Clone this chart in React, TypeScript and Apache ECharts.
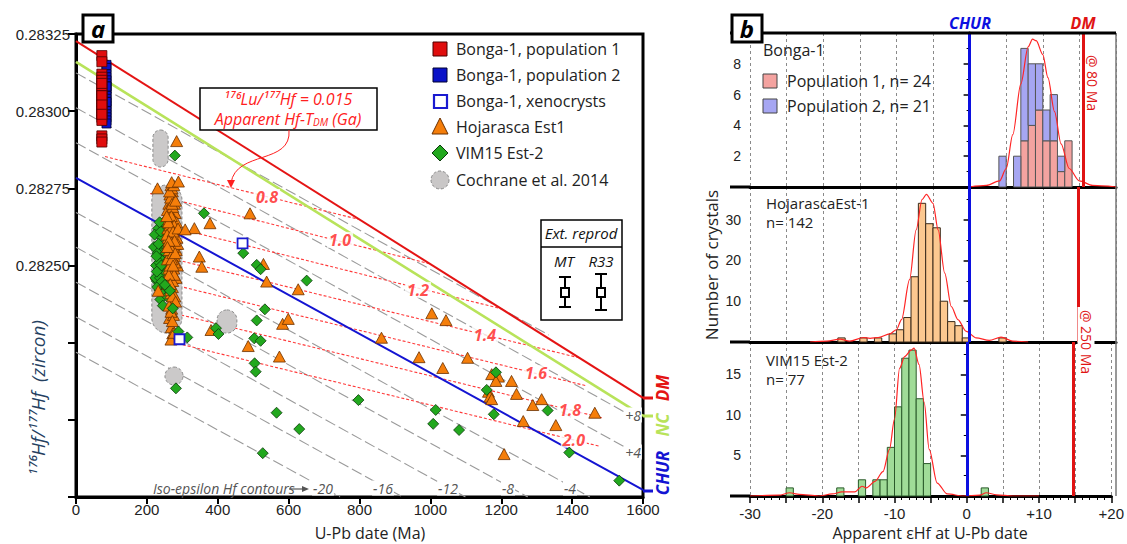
import React, { useEffect, useRef } from "react";
import * as echarts from "echarts";

// ---------- Panel a: U-Pb date (Ma) vs 176Hf/177Hf (zircon) ----------
const bongaPop1: number[][] = [
  [73, 0.28318], [73, 0.28316], [73, 0.28312], [73, 0.28311], [73, 0.2831], [73, 0.28308],
  [73, 0.28307], [73, 0.28306], [73, 0.28305], [73, 0.28304], [73, 0.28303], [73, 0.28302],
  [73, 0.28301], [73, 0.283], [73, 0.28299], [73, 0.28298], [73, 0.28297], [73, 0.28309],
  [73, 0.28305], [73, 0.28302], [73, 0.28292], [73, 0.28291], [73, 0.2829], [73, 0.28299],
];
const bongaPop2: number[][] = [
  [86, 0.28315], [86, 0.28314], [86, 0.28312], [86, 0.28311], [86, 0.2831], [86, 0.28309],
  [86, 0.28308], [86, 0.28307], [86, 0.28306], [86, 0.28305], [86, 0.28304], [86, 0.28303],
  [86, 0.28302], [86, 0.28301], [86, 0.283], [86, 0.28299], [86, 0.28298], [86, 0.28297],
  [86, 0.28296], [86, 0.28308], [86, 0.28303],
];
const bongaXeno: number[][] = [[470, 0.282572], [292, 0.282261]];

const hojarascaCluster: number[][] = [
  [268, 0.28276], [272, 0.28274], [265, 0.28273], [275, 0.28272], [270, 0.28271], [262, 0.2827],
  [278, 0.2827], [268, 0.28269], [274, 0.28268], [266, 0.28267], [280, 0.28267], [270, 0.28266],
  [262, 0.28265], [276, 0.28265], [268, 0.28264], [272, 0.28263], [264, 0.28262], [282, 0.28262],
  [270, 0.28261], [266, 0.2826], [276, 0.2826], [260, 0.28259], [272, 0.28258], [268, 0.28257],
  [280, 0.28257], [264, 0.28256], [274, 0.28255], [270, 0.28254], [262, 0.28253], [278, 0.28253],
  [266, 0.28252], [272, 0.28251], [268, 0.2825], [276, 0.28249], [264, 0.28248], [270, 0.28247],
  [274, 0.28246], [266, 0.28245], [260, 0.28244], [272, 0.28243], [268, 0.28241], [276, 0.28239],
  [270, 0.28236], [264, 0.28233], [258, 0.28268], [284, 0.28264], [259, 0.28262], [285, 0.28259],
  [261, 0.28257], [283, 0.28255], [258, 0.28252], [286, 0.2825], [262, 0.28249], [282, 0.28246],
  [271, 0.28275], [267, 0.28272], [273, 0.28269], [269, 0.28266], [265, 0.28263], [277, 0.28263],
  [271, 0.28259], [267, 0.28258], [275, 0.28256], [263, 0.28255], [279, 0.28251], [269, 0.28248],
  [273, 0.28245], [267, 0.28242], [279, 0.2824], [271, 0.28238], [263, 0.28237], [275, 0.28234],
  [269, 0.2823], [273, 0.28228], [271, 0.2827], [269, 0.28262], [273, 0.28254], [265, 0.2825],
  [277, 0.28247], [261, 0.28264], [281, 0.28271], [257, 0.2826], [287, 0.28257], [270, 0.28252],
  [274, 0.28261], [266, 0.28256], [278, 0.28258], [262, 0.28247], [272, 0.2824], [268, 0.28235],
  [256, 0.28266], [288, 0.28262], [264, 0.28274], [276, 0.28276], [270, 0.28277], [262, 0.28258],
  [280, 0.28254], [266, 0.28244], [274, 0.2825], [268, 0.28226], [272, 0.28232], [258, 0.28256],
];
const hojarascaSpread: number[][] = [
  [284, 0.282903], [230, 0.28275], [289, 0.282772], [491, 0.282669], [378, 0.282637], [334, 0.282621],
  [308, 0.282617], [348, 0.282529], [355, 0.282496], [529, 0.282505], [232, 0.282418], [281, 0.282383],
  [277, 0.282282], [381, 0.282291], [486, 0.282239], [538, 0.282448], [627, 0.282423], [583, 0.282311],
  [599, 0.282327], [574, 0.282205], [1004, 0.282345], [1044, 0.282323], [862, 0.282266], [968, 0.282203],
  [1105, 0.282201], [1035, 0.282168], [1173, 0.282148], [1192, 0.28214], [1185, 0.282126], [1229, 0.282126],
  [1164, 0.282091], [1168, 0.282075], [1173, 0.282067], [1243, 0.282084], [1314, 0.282067], [1289, 0.282048],
  [1464, 0.282023], [1262, 0.281996], [1354, 0.281983], [1208, 0.281889],
];
const vim15Cluster: number[][] = [
  [232, 0.28262], [220, 0.28256], [246, 0.28255], [238, 0.28253], [226, 0.2825], [242, 0.28249],
  [250, 0.28258], [234, 0.28247], [228, 0.28245], [244, 0.28244], [236, 0.28242], [222, 0.2826],
  [248, 0.28252], [254, 0.2825], [240, 0.28257], [230, 0.28254], [258, 0.28248], [252, 0.28245],
  [246, 0.28241], [238, 0.28239], [224, 0.28246], [256, 0.28256], [262, 0.28252], [260, 0.28244],
  [266, 0.28248], [235, 0.28251], [243, 0.28259], [251, 0.28262], [229, 0.28243], [257, 0.2824],
  [245, 0.28237], [233, 0.28257], [239, 0.28261], [249, 0.28247], [255, 0.28243], [227, 0.28253],
  [241, 0.2825], [253, 0.28254], [263, 0.28258], [247, 0.28264], [237, 0.28246], [236, 0.28264],
];
const vim15Spread: number[][] = [
  [279, 0.282856], [361, 0.282669], [472, 0.28254], [510, 0.282502], [228, 0.28248], [242, 0.282448],
  [251, 0.282437], [265, 0.282418], [273, 0.282361], [289, 0.282286], [314, 0.282267], [395, 0.282297],
  [402, 0.282278], [533, 0.282358], [510, 0.282322], [503, 0.282264], [521, 0.282256], [504, 0.282183],
  [507, 0.282156], [282, 0.282102], [651, 0.282451], [521, 0.282488], [797, 0.282064], [566, 0.282023],
  [630, 0.28197], [527, 0.281892], [1185, 0.282154], [1159, 0.282097], [1015, 0.282032], [1179, 0.282018],
  [1331, 0.28203], [1008, 0.281987], [1081, 0.281967], [1392, 0.281894], [1533, 0.281803],
];
// Cochrane et al. 2014 fields: [ageMin, ageMax, ratioMin, ratioMax]
const cochraneFields: number[][] = [
  [217, 260, 0.282819, 0.282939],
  [214, 299, 0.282281, 0.282761],
  [398, 454, 0.282281, 0.282356],
  [251, 302, 0.282113, 0.282171],
];

// Reference evolution lines
const dmLine: number[][] = [[0, 0.283227], [1600, 0.282071]];
const ncLine: number[][] = [[0, 0.28316], [1600, 0.282013]];
const churLine: number[][] = [[0, 0.282784], [1600, 0.281773]];

// Iso-epsilon Hf contours
const contourEps = ["+12", "+8", "+4", "-4", "-8", "-12", "-16", "-20"];
const contourSegments: number[][][] = [
  [[0, 0.283124], [1334, 0.282275]],
  [[0, 0.283011], [1550, 0.282024]],
  [[0, 0.282898], [1550, 0.281911]],
  [[0, 0.282672], [1450, 0.28175]],
  [[0, 0.282559], [1275, 0.28175]],
  [[0, 0.282446], [1099, 0.28175]],
  [[0, 0.282333], [922, 0.28175]],
  [[0, 0.282219], [745, 0.28175]],
];

// Apparent Hf-TDM (Ga) model-age lines, 176Lu/177Hf = 0.015
const tdmAges = ["0.8", "1.0", "1.2", "1.4", "1.6", "1.8", "2.0"];
const tdmSegments: number[][][] = [
  [[82, 0.282853], [796, 0.28265]],
  [[209, 0.282733], [1000, 0.282505]],
  [[279, 0.282622], [1200, 0.28236]],
  [[260, 0.282525], [1420, 0.282201]],
  [[209, 0.282456], [1441, 0.28211]],
  [[242, 0.282355], [1487, 0.282006]],
  [[260, 0.282255], [1479, 0.281914]],
];
const tdmLabelAt: number[][] = [
  [539, 0.282722], [745, 0.282583], [965, 0.282421], [1154, 0.282275],
  [1298, 0.282151], [1394, 0.282032], [1405, 0.281935],
];

// ---------- Panel b: apparent eHf histograms (1-unit bins, lower edges) ----------
const bongaBins = [4, 6, 7, 8, 9, 10, 11, 12, 13];
const bongaPop1Counts = [0, 0, 3, 4, 5, 3, 3, 1, 3];
const bongaPop2Counts = [2, 2, 6, 4, 3, 2, 3, 1, 0];
const hojBins = [-18, -15, -13, -11, -10, -9, -8, -7, -6, -5, -4, -3, -2, -1, 4];
const hojCounts = [1, 1, 1, 2, 3, 6, 16, 34, 29, 28, 10, 5, 4, 1, 1];
const vimBins = [-25, -18, -15, -13, -12, -11, -10, -9, -8, -7, -6, 2];
const vimCounts = [1, 1, 2, 2, 2, 6, 11, 17, 18, 12, 4, 1];

// Probability density curves (scaled to counts)
const bongaDensity: number[][] = [
  [0, 0], [2.3, 0.1], [4.1, 0.4], [5, 1.2], [5.9, 3.4], [7, 6.7], [8, 9.1], [8.6, 9.6],
  [9.1, 9.5], [10, 8.6], [10.7, 7.1], [11.6, 4.9], [12.5, 2.8], [13.6, 1.2], [15, 0.4],
  [16.8, 0.1], [20, 0],
];
const hojDensity: number[][] = [
  [-21.8, 0], [-19.5, 0.2], [-17.7, 0.7], [-16.4, 0.2], [-14.5, 1.1], [-13.6, 0.9], [-12.5, 1.1],
  [-10.9, 2], [-10, 3], [-9.3, 5.5], [-8.2, 15.3], [-7.3, 27.5], [-6.5, 34.9], [-5.9, 36.2],
  [-5, 34], [-4.3, 27.5], [-3.4, 16.9], [-2.5, 8.7], [-1.6, 5.5], [-0.45, 2.6], [0.9, 1],
  [2.7, 0.4], [4.3, 1.2], [5.9, 0.2], [8, 0],
];
const vimDensity: number[][] = [
  [-30, 0], [-26, 0.1], [-24.5, 0.4], [-23.2, 0.2], [-20.5, 0], [-18.6, 0.25], [-17.3, 0.5],
  [-15.5, 0.5], [-14.5, 1.2], [-13.9, 1], [-12.7, 1.8], [-11.6, 3], [-10.7, 5.75], [-10, 9.5],
  [-9.3, 15.75], [-8.6, 17.2], [-7.7, 18], [-7.3, 18.25], [-6.6, 16.2], [-5.9, 11.6], [-5.2, 5.75],
  [-4.1, 1.6], [-2.7, 0.25], [-0.45, 0], [1.8, 0.1], [2.7, 0.4], [4.1, 0.15], [6.4, 0], [10, 0],
];
const churEps = 0;
const dmEps80 = 15.5;
const dmEps250 = 14.8;

// ---------- layout ----------
const SANS = "'Open Sans', 'Noto Sans', sans-serif";
const TICK = "'Liberation Sans', Arial, sans-serif";
const PA = { left: 76, top: 34, width: 567, height: 463 };
const PB_LEFT = 750;
const PB_WIDTH = 366;
const PB_ROWS = [
  { top: 33, height: 154 },
  { top: 187, height: 155 },
  { top: 342, height: 154 },
];

function txt(x: number, y: number, text: string, o: any = {}) {
  const size = o.size || 15;
  return {
    type: "text",
    x,
    y,
    z: o.z ?? 100,
    rotation: o.rotation || 0,
    style: {
      text,
      fill: o.color || "#222",
      fontSize: size,
      lineHeight: o.lh || Math.round(size * 1.05),
      fontFamily: o.family || SANS,
      fontStyle: o.italic ? "italic" : "normal",
      fontWeight: o.bold ? "bold" : "normal",
      align: o.align || "left",
      verticalAlign: "middle",
      backgroundColor: o.bg,
      padding: o.pad,
      rich: o.rich,
    },
  };
}
function ln(x1: number, y1: number, x2: number, y2: number, color: string, w: number, o: any = {}) {
  return {
    type: "line",
    z: o.z ?? 100,
    shape: { x1, y1, x2, y2 },
    style: { stroke: color, lineWidth: w, lineDash: o.dash },
  };
}
function box(x: number, y: number, w: number, h: number, o: any = {}) {
  return {
    type: "rect",
    z: o.z ?? 100,
    shape: { x, y, width: w, height: h, r: o.r || 0 },
    style: { fill: o.fill ?? "#fff", stroke: o.stroke ?? "#000", lineWidth: o.lw ?? 1.5, lineDash: o.dash },
  };
}

function histData(bins: number[], counts: number[], base?: number[]) {
  return bins
    .map((lo, i) => {
      const b = base ? base[i] : 0;
      return [lo, lo + 1, b, b + counts[i]];
    })
    .filter((d) => d[3] > d[2]);
}

function histSeries(idx: number, data: number[][], fill: string, stroke: string) {
  return {
    type: "custom",
    xAxisIndex: idx,
    yAxisIndex: idx,
    z: 2,
    data,
    encode: { x: [0, 1], y: [2, 3] },
    renderItem: (_p: any, api: any) => {
      const a = api.coord([api.value(0), api.value(3)]);
      const b = api.coord([api.value(1), api.value(2)]);
      return {
        type: "rect",
        shape: { x: a[0], y: a[1], width: b[0] - a[0], height: b[1] - a[1] },
        style: { fill, stroke, lineWidth: 1 },
      };
    },
  };
}

function densitySeries(idx: number, data: number[][], dmEps: number) {
  return {
    type: "line",
    xAxisIndex: idx,
    yAxisIndex: idx,
    data,
    smooth: 0.3,
    smoothMonotone: "x",
    symbol: "none",
    z: 3,
    lineStyle: { color: "#ff2424", width: 1.2 },
    markLine: {
      silent: true,
      symbol: "none",
      label: { show: false },
      animation: false,
      data: [
        { xAxis: churEps, lineStyle: { color: "#0c10e0", width: 3, type: "solid" } },
        { xAxis: dmEps, lineStyle: { color: "#e01414", width: 3, type: "solid" } },
      ],
    },
  };
}

function legendIcon(kind: string, cx: number, cy: number) {
  if (kind === "red") return box(cx - 7, cy - 7, 14, 14, { fill: "#e00d0d", stroke: "#4a0000", lw: 1 });
  if (kind === "blue") return box(cx - 7, cy - 7, 14, 14, { fill: "#0a12c8", stroke: "#000030", lw: 1 });
  if (kind === "xeno") return box(cx - 6, cy - 6, 13, 13, { fill: "#fff", stroke: "#1a1ad0", lw: 2.2 });
  if (kind === "tri")
    return {
      type: "polygon",
      z: 100,
      shape: { points: [[cx, cy - 9], [cx + 8, cy + 7], [cx - 8, cy + 7]] },
      style: { fill: "#f57e0a", stroke: "#6a3000", lineWidth: 1 },
    };
  if (kind === "dia")
    return {
      type: "polygon",
      z: 100,
      shape: { points: [[cx, cy - 8], [cx + 8, cy], [cx, cy + 8], [cx - 8, cy]] },
      style: { fill: "#22a81e", stroke: "#0b3a0b", lineWidth: 1 },
    };
  return {
    type: "circle",
    z: 100,
    shape: { cx, cy, r: 9 },
    style: { fill: "#c9c7c7", stroke: "#888", lineWidth: 1, lineDash: [3, 2] },
  };
}

const legendRows = [
  { kind: "red", label: "Bonga-1, population 1", y: 49 },
  { kind: "blue", label: "Bonga-1, population 2", y: 75 },
  { kind: "xeno", label: "Bonga-1, xenocrysts", y: 101 },
  { kind: "tri", label: "Hojarasca Est1", y: 127 },
  { kind: "dia", label: "VIM15 Est-2", y: 153 },
  { kind: "blob", label: "Cochrane et al. 2014", y: 180 },
];

export default function App() {
  const ref = useRef<HTMLDivElement>(null);

  useEffect(() => {
    document.body.style.margin = "0";
    const chart = echarts.init(ref.current!, null, { renderer: "svg" });

    const leftLine = (data: number[][], color: string, width: number, z: number, type: any = "solid") => ({
      type: "line",
      xAxisIndex: 0,
      yAxisIndex: 0,
      data,
      symbol: "none",
      z,
      lineStyle: { color, width, type },
    });

    const series: any[] = [];
    contourSegments.forEach((seg) => series.push(leftLine(seg, "#9a9a9a", 1.1, 1, [11, 4])));
    tdmSegments.forEach((seg) => series.push(leftLine(seg, "#ff3a3a", 1.1, 2, [3, 2])));
    series.push({
      type: "custom",
      xAxisIndex: 0,
      yAxisIndex: 0,
      z: 3,
      data: cochraneFields,
      encode: { x: [0, 1], y: [2, 3] },
      renderItem: (_p: any, api: any) => {
        const a = api.coord([api.value(0), api.value(3)]);
        const b = api.coord([api.value(1), api.value(2)]);
        const w = b[0] - a[0];
        const h = b[1] - a[1];
        return {
          type: "rect",
          shape: { x: a[0], y: a[1], width: w, height: h, r: Math.min(w, h) / 2 },
          style: { fill: "#cbc9c9", stroke: "#8a8a8a", lineWidth: 1, lineDash: [3, 2] },
        };
      },
    });
    series.push(leftLine(churLine, "#1414d2", 2, 4));
    series.push(leftLine(ncLine, "#b8e35a", 2.6, 4));
    series.push(leftLine(dmLine, "#e41414", 2, 4));
    series.push({
      type: "scatter",
      xAxisIndex: 0,
      yAxisIndex: 0,
      z: 5,
      symbolSize: 0.1,
      itemStyle: { color: "transparent" },
      data: tdmLabelAt.map((p, i) => ({ value: p, name: tdmAges[i] })),
      label: {
        show: true,
        position: "inside",
        formatter: "{b}",
        color: "#ff2020",
        fontSize: 16,
        fontStyle: "italic",
        fontWeight: "bold",
        fontFamily: SANS,
        backgroundColor: "#fff",
        padding: [0, 2],
      },
    });
    const pts = (data: number[][], symbol: string, size: any, color: string, border: string, bw: number, z: number) => ({
      type: "scatter",
      xAxisIndex: 0,
      yAxisIndex: 0,
      data,
      symbol,
      symbolSize: size,
      z,
      itemStyle: { color, borderColor: border, borderWidth: bw, opacity: 1 },
    });
    series.push(pts(vim15Cluster, "diamond", 11, "#22a81e", "#0b3a0b", 0.8, 6));
    series.push(pts(hojarascaCluster, "triangle", [12, 11], "#f57e0a", "#6a3000", 0.8, 7));
    series.push(pts(hojarascaSpread, "triangle", [12, 11], "#f57e0a", "#6a3000", 0.8, 7));
    series.push(pts(vim15Spread, "diamond", 11, "#22a81e", "#0b3a0b", 0.8, 8));
    series.push(pts(bongaPop2, "rect", 9, "#0a12c8", "#000030", 0.8, 8));
    series.push(pts(bongaPop1, "rect", 10, "#e00d0d", "#4a0000", 0.8, 9));
    series.push(pts(bongaXeno, "rect", 10, "#fff", "#1a1ad0", 1.8, 9));

    // Panel b
    series.push(histSeries(1, histData(bongaBins, bongaPop1Counts), "#f4a3a0", "#555"));
    series.push(histSeries(1, histData(bongaBins, bongaPop2Counts, bongaPop1Counts), "#a6a6f2", "#555"));
    series.push(densitySeries(1, bongaDensity, dmEps80));
    series.push(histSeries(2, histData(hojBins, hojCounts), "#fcc890", "#3a2a1a"));
    series.push(densitySeries(2, hojDensity, dmEps250));
    series.push(histSeries(3, histData(vimBins, vimCounts), "#a0dc98", "#2a5a2a"));
    series.push(densitySeries(3, vimDensity, dmEps250));

    const rightX = (gridIndex: number, bottom: boolean) => ({
      gridIndex,
      type: "value",
      min: -30,
      max: 20,
      interval: 5,
      axisLine: { show: true, onZero: false, lineStyle: { color: "#000", width: 3 } },
      axisTick: { show: bottom, length: 7, lineStyle: { color: "#000", width: 1.5 } },
      minorTick: { show: bottom, splitNumber: 5, length: 4, lineStyle: { color: "#000", width: 1 } },
      axisLabel: {
        show: bottom,
        margin: 10,
        fontSize: 15,
        color: "#222",
        fontFamily: TICK,
        formatter: (v: number) => (v % 10 === 0 ? (v > 0 ? "+" + v : String(v)) : ""),
      },
      splitLine: { show: true, lineStyle: { color: "#8a8a8a", width: 1, type: [3, 3] } },
    });
    const rightY = (gridIndex: number, max: number, interval: number) => ({
      gridIndex,
      type: "value",
      min: 0,
      max,
      interval,
      axisLine: { show: true, lineStyle: { color: "#000", width: 3 } },
      axisTick: { show: true, length: 6, lineStyle: { color: "#000", width: 1.5 } },
      minorTick: { show: true, splitNumber: 2, length: 3, lineStyle: { color: "#000", width: 1 } },
      axisLabel: {
        fontSize: 14,
        color: "#222",
        margin: 9,
        fontFamily: TICK,
        formatter: (v: number) => (v > 0 && v < max && v % interval === 0 ? String(v) : ""),
      },
      splitLine: { show: false },
    });

    const g: any[] = [];
    // panel frames
    g.push(ln(730, 33, 1116, 33, "#000", 3));
    g.push(ln(730, 187, 750, 187, "#000", 3));
    g.push(ln(730, 342, 750, 342, "#000", 3));
    g.push(ln(730, 496, 750, 496, "#000", 3));
    g.push(ln(1116, 33, 1116, 496, "#777", 1.5, { z: 1 }));
    g.push(box(83, 15, 30, 27, { lw: 3 }));
    g.push(txt(98, 28, "a", { size: 24, bold: true, italic: true, align: "center", color: "#000" }));
    g.push(box(732, 15, 30, 27, { lw: 3 }));
    g.push(txt(747, 28, "b", { size: 24, bold: true, italic: true, align: "center", color: "#000" }));

    // legend of panel a
    legendRows.forEach((r) => {
      g.push(legendIcon(r.kind, 440, r.y));
      g.push(txt(456, r.y, r.label, { size: 16 }));
    });

    // TDM annotation box and arrow
    g.push(box(200, 88, 177, 42, { lw: 1.5 }));
    g.push(txt(288, 99, "¹⁷⁶Lu/¹⁷⁷Hf = 0.015", { size: 16, lh: 16, italic: true, color: "#ff2020", align: "center" }));
    g.push(
      txt(288, 119, "Apparent Hf-T{s|DM} (Ga)", {
        size: 16,
        lh: 16,
        italic: true,
        color: "#ff2020",
        align: "center",
        rich: {
          s: { fontSize: 10, lineHeight: 10, fontStyle: "italic", fill: "#ff2020", fontFamily: SANS, verticalAlign: "bottom" },
        },
      })
    );
    g.push({
      type: "bezierCurve",
      z: 100,
      shape: { x1: 289, y1: 130, x2: 231, y2: 183, cpx1: 292, cpy1: 165, cpx2: 236, cpy2: 150 },
      style: { stroke: "#ff2020", lineWidth: 1, fill: "none" },
    });
    g.push({
      type: "polygon",
      z: 100,
      shape: { points: [[227, 180], [235, 180], [231, 188]] },
      style: { fill: "#ff2020" },
    });

    // external reproducibility box
    g.push(box(541, 220, 81, 100, { lw: 1.5 }));
    g.push(ln(541, 247, 622, 247, "#000", 1.5));
    g.push(txt(581, 233, "Ext. reprod", { size: 15, italic: true, align: "center", color: "#111" }));
    g.push(txt(564, 261, "MT", { size: 15, italic: true, align: "center", color: "#111" }));
    g.push(txt(601, 261, "R33", { size: 15, italic: true, align: "center", color: "#111" }));
    [
      [565, 277, 307],
      [601, 274, 310],
    ].forEach(([x, y1, y2]) => {
      g.push(ln(x, y1, x, y2, "#000", 2));
      g.push(ln(x - 6, y1, x + 6, y1, "#000", 2));
      g.push(ln(x - 6, y2, x + 6, y2, "#000", 2));
      g.push(box(x - 4, 288, 8, 9, { lw: 2 }));
    });

    // end labels for reference lines
    g.push(ln(643, 398, 653, 398, "#e41414", 3));
    g.push(ln(643, 416, 653, 416, "#b8e35a", 3));
    g.push(ln(643, 491, 653, 491, "#1414d2", 3));
    g.push(txt(662, 388, "DM", { size: 17, bold: true, italic: true, color: "#e41414", align: "center", rotation: Math.PI / 2 }));
    g.push(txt(662, 425, "NC", { size: 17, bold: true, italic: true, color: "#b8e35a", align: "center", rotation: Math.PI / 2 }));
    g.push(txt(662, 473, "CHUR", { size: 17, bold: true, italic: true, color: "#1414d2", align: "center", rotation: Math.PI / 2 }));

    // contour labels
    const contourLabelPos: Record<string, number[]> = {
      "+8": [633, 415],
      "+4": [633, 452],
      "-4": [570, 488],
      "-8": [508, 488],
      "-12": [448, 488],
      "-16": [383, 488],
      "-20": [323, 488],
    };
    contourEps.forEach((e) => {
      const p = contourLabelPos[e];
      if (p) g.push(txt(p[0], p[1], e, { size: 14, italic: true, color: "#555", align: "center", bg: "#fff", pad: [0, 1] }));
    });
    g.push(txt(153, 488, "Iso-epsilon Hf contours", { size: 14, italic: true, color: "#555" }));
    g.push(ln(289, 489, 305, 489, "#555", 1.2));
    g.push({ type: "polygon", z: 100, shape: { points: [[302, 486], [309, 489], [302, 492]] }, style: { fill: "#555" } });

    // axis titles
    g.push(txt(38, 398, "¹⁷⁶Hf/¹⁷⁷Hf  (zircon)", { size: 19, italic: true, color: "#24405f", align: "center", rotation: Math.PI / 2 }));
    g.push(txt(370, 533, "U-Pb date (Ma)", { size: 16, align: "center", color: "#222" }));
    g.push(txt(711, 265, "Number of crystals", { size: 17, align: "center", color: "#222", rotation: Math.PI / 2 }));
    g.push(txt(930, 533, "Apparent εHf at U-Pb date", { size: 16, lh: 15, align: "center", color: "#222" }));

    // panel b annotations
    g.push(txt(970, 23, "CHUR", { size: 16, bold: true, italic: true, color: "#0c10e0", align: "center" }));
    g.push(txt(1083, 23, "DM", { size: 16, bold: true, italic: true, color: "#e01414", align: "center" }));
    g.push(txt(1092, 83, "@ 80 Ma", { size: 14, color: "#e01414", align: "center", rotation: -Math.PI / 2 }));
    g.push(txt(1086, 342, "@ 250 Ma", { size: 14, color: "#e01414", align: "center", rotation: -Math.PI / 2, bg: "#fff", pad: [1, 3] }));
    g.push(txt(763, 50, "Bonga-1", { size: 16 }));
    g.push(box(763, 74, 14, 14, { fill: "#f4a3a0", stroke: "#444", lw: 1 }));
    g.push(box(763, 99, 14, 14, { fill: "#a6a6f2", stroke: "#444", lw: 1 }));
    g.push(txt(787, 81, "Population 1, n= 24", { size: 16 }));
    g.push(txt(787, 106, "Population 2, n= 21", { size: 16 }));
    g.push(txt(766, 203, "HojarascaEst-1", { size: 15, lh: 15 }));
    g.push(txt(766, 222, "n= 142", { size: 15, lh: 15 }));
    g.push(txt(766, 360, "VIM15 Est-2", { size: 15, lh: 15 }));
    g.push(txt(766, 379, "n= 77", { size: 15, lh: 15 }));

    chart.setOption({
      animation: false,
      backgroundColor: "#fff",
      grid: [
        { ...PA, show: true, borderColor: "#000", borderWidth: 3, backgroundColor: "transparent" },
        ...PB_ROWS.map((r) => ({ left: PB_LEFT, width: PB_WIDTH, top: r.top, height: r.height })),
      ],
      xAxis: [
        {
          gridIndex: 0,
          type: "value",
          min: 0,
          max: 1600,
          interval: 200,
          axisLine: { show: true, onZero: false, lineStyle: { color: "#000", width: 3 } },
          axisTick: { show: true, length: 7, lineStyle: { color: "#000", width: 2 } },
          axisLabel: { fontSize: 15, color: "#222", margin: 5, fontFamily: TICK, formatter: (v: number) => String(v) },
          splitLine: { show: false },
        },
        rightX(1, false),
        rightX(2, false),
        rightX(3, true),
      ],
      yAxis: [
        {
          gridIndex: 0,
          type: "value",
          min: 0.28175,
          max: 0.28325,
          interval: 0.00025,
          axisLine: { show: true, onZero: false, lineStyle: { color: "#000", width: 3 } },
          axisTick: { show: true, length: 8, lineStyle: { color: "#000", width: 2 } },
          axisLabel: {
            fontSize: 15,
            color: "#222",
            margin: 6,
            fontFamily: TICK,
            formatter: (v: number) => (v > 0.2824999 ? v.toFixed(5) : ""),
          },
          splitLine: { show: false },
        },
        rightY(1, 10, 2),
        rightY(2, 38, 10),
        rightY(3, 19, 5),
      ],
      series,
      graphic: g,
    });

    return () => chart.dispose();
  }, []);

  return <div ref={ref} style={{ width: 1127, height: 544 }} />;
}
